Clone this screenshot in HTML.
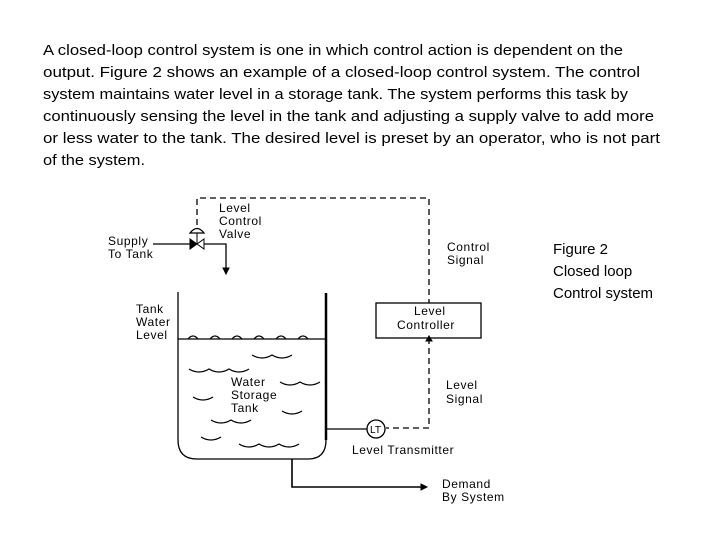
<!DOCTYPE html>
<html><head><style>html,body{margin:0;padding:0;background:#fff}svg{display:block}</style></head>
<body>
<svg width="720" height="540" viewBox="0 0 720 540" xmlns="http://www.w3.org/2000/svg">
<g font-family="Liberation Sans, sans-serif" font-size="15" fill="#000">
<text x="43" y="55" textLength="580" lengthAdjust="spacingAndGlyphs">A closed-loop control system is one in which control action is dependent on the</text>
<text x="43" y="77" textLength="597" lengthAdjust="spacingAndGlyphs">output.   Figure 2 shows an example of a closed-loop control system.   The control</text>
<text x="43" y="99" textLength="585" lengthAdjust="spacingAndGlyphs">system maintains water level in a storage tank.   The system performs this task by</text>
<text x="43" y="121" textLength="611" lengthAdjust="spacingAndGlyphs">continuously sensing the level in the tank and adjusting a supply valve to add more</text>
<text x="43" y="143" textLength="617" lengthAdjust="spacingAndGlyphs">or less water to the tank.   The desired level is preset by an operator, who is not part</text>
<text x="43" y="165" textLength="102" lengthAdjust="spacingAndGlyphs">of the system.</text>
<text x="553" y="254">Figure 2</text>
<text x="553" y="276">Closed loop</text>
<text x="553" y="298">Control system</text>
</g>
<g stroke="#000" fill="none" stroke-width="1.3">
<path d="M197 225 V198 H429 V303" stroke-dasharray="6,4"/>
<path d="M429 338 V428 H386" stroke-dasharray="6,4"/>
<rect x="376" y="303" width="105" height="35"/>
<path d="M178 292 V440 Q178 459 197 459 H308 Q326 459 326 440"/>
<line x1="326" y1="293" x2="326" y2="440" stroke-width="2.5"/>
<line x1="326" y1="429" x2="367" y2="429"/>
<circle cx="376" cy="429" r="9"/>
<path d="M292 459 V487 H423" stroke-width="1.6"/>
<path d="M153 244 H190 M204 244 H226 V270" stroke-width="1.3"/>
<path d="M178 339 H326" />
<path d="M188 339 q5 -6 10 0 M210 339 q5 -6 10 0 M232 339 q5 -6 10 0 M254 339 q5 -6 10 0 M276 339 q5 -6 10 0 M298 339 q5 -6 10 0"/>
<path d="M252 355 q10 6 20 0 q10 6 20 0"/>
<path d="M189 369 q10 6 20 0 q10 6 20 0 q10 6 20 0"/>
<path d="M280 382 q10 6 20 0 q10 6 20 0"/>
<path d="M193 397 q10 6 20 0"/>
<path d="M282 411 q10 6 20 0"/>
<path d="M211 420 q10 6 20 0 q10 6 20 0"/>
<path d="M201 437 q10 6 20 0"/>
<path d="M239 444 q10 6 20 0 q10 6 20 0 q10 6 20 0"/>
</g>
<g fill="#000" stroke="#000">
<polygon points="190,239 190,249 197,244"/>
<polygon points="204,239 204,249 197,244" fill="#fff"/>
<path d="M190 233 Q197 224 204 233 Z" fill="#fff" stroke-width="1.3"/>
<line x1="197" y1="233" x2="197" y2="244"/>
<polygon points="223,268 229,268 226,274"/>
<polygon points="421,484 421,490 427,487"/>
<polygon points="426,341 432,341 429,336"/>
</g>
<g font-family="Liberation Sans, sans-serif" font-size="12" letter-spacing="0.6" fill="#000">
<text x="219" y="212">Level</text>
<text x="219" y="225">Control</text>
<text x="219" y="238">Valve</text>
<text x="108" y="245">Supply</text>
<text x="108" y="258">To Tank</text>
<text x="447" y="251">Control</text>
<text x="447" y="264">Signal</text>
<text x="136" y="313">Tank</text>
<text x="136" y="326">Water</text>
<text x="136" y="339">Level</text>
<text x="414" y="315">Level</text>
<text x="397" y="329">Controller</text>
<text x="231" y="386">Water</text>
<text x="231" y="399">Storage</text>
<text x="231" y="412">Tank</text>
<text x="446" y="389">Level</text>
<text x="446" y="403">Signal</text>
<text x="370" y="433" font-size="10" letter-spacing="0">LT</text>
<text x="352" y="454">Level Transmitter</text>
<text x="442" y="488">Demand</text>
<text x="442" y="501">By System</text>
</g>
</svg>
</body></html>
